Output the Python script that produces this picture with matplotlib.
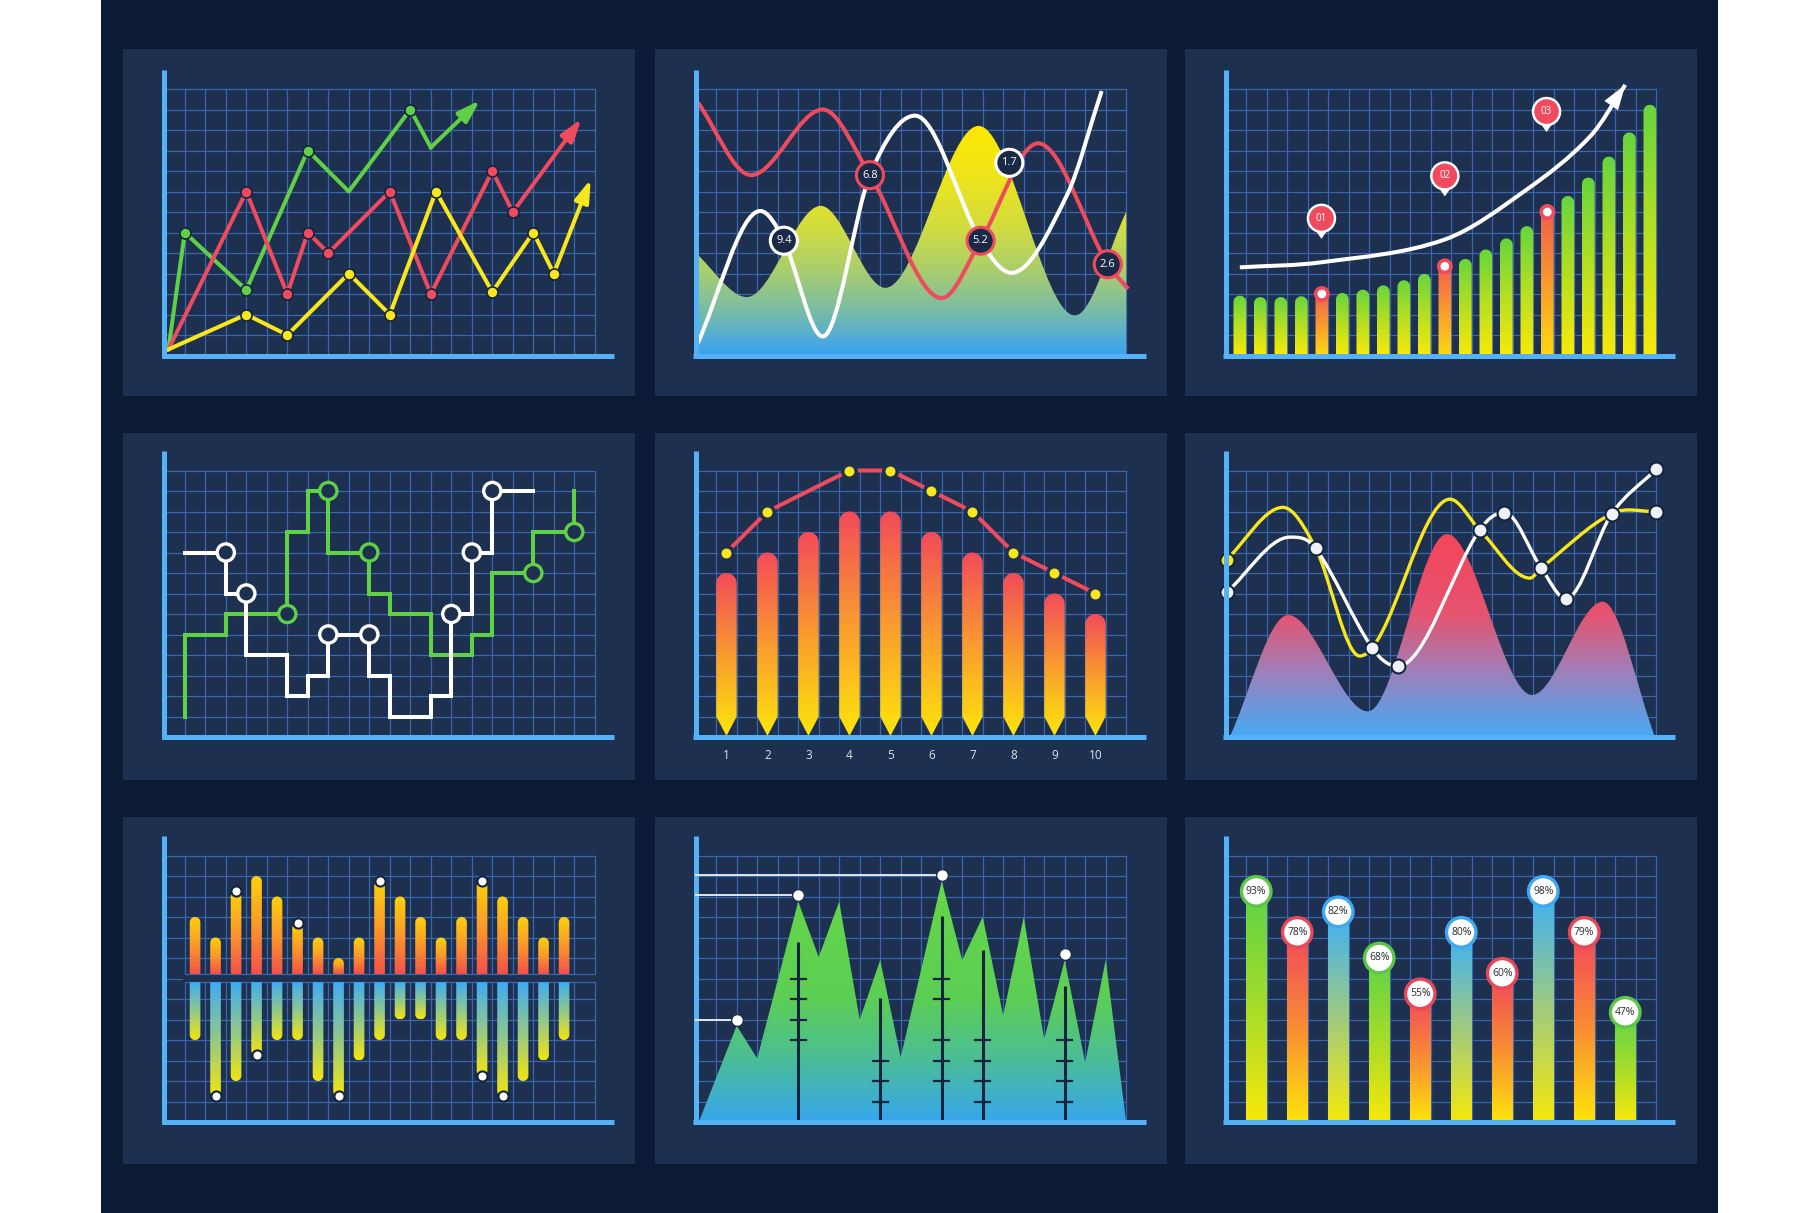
import numpy as np
import matplotlib
matplotlib.use('Agg')
import matplotlib.pyplot as plt
from matplotlib.path import Path
from matplotlib.patches import PathPatch, Rectangle, Circle, Polygon, FancyArrowPatch
from matplotlib.colors import LinearSegmentedColormap

plt.rcParams['font.family'] = ['Open Sans', 'DejaVu Sans']

# ---------------- data (grid units, one cell = 1) ----------------
# panel 1: zig-zag lines ending in arrows
p1_green_x = [0.2, 1, 4, 7, 9, 12, 13]
p1_green_y = [0.3, 6, 3.2, 10, 8, 12, 10.15]
p1_green_tip = (15.4, 12.45)
p1_green_dots = [1, 2, 3, 5]
p1_red_x = [0.2, 4, 6, 7, 8, 11, 13, 16, 17]
p1_red_y = [0.3, 8, 3, 6, 5, 8, 3, 9, 7]
p1_red_tip = (20.35, 11.55)
p1_yellow_x = [0.2, 4, 6, 9, 11, 13.25, 16, 18, 19]
p1_yellow_y = [0.3, 2, 1, 4, 2, 8, 3.1, 6, 4]
p1_yellow_tip = (20.8, 8.6)

# panel 2: smooth curves over a filled wave
p2_area_x = [0, 2.5, 6.1, 9.25, 13.8, 18.5, 21.0]
p2_area_y = [5.0, 2.85, 7.3, 3.3, 11.2, 1.95, 7.0]
p2_red_x = [0.1, 2.7, 6.2, 8.5, 12.0, 13.9, 16.7, 20.1, 21.1]
p2_red_y = [12.35, 8.8, 12.0, 8.8, 2.8, 5.6, 10.35, 4.45, 3.25]
p2_white_x = [0.05, 3.15, 4.3, 6.2, 8.5, 10.7, 13.9, 15.4, 18.1, 19.8]
p2_white_y = [0.5, 7.05, 5.6, 0.93, 8.8, 11.7, 5.6, 4.03, 7.8, 12.9]
p2_label_x = [4.3, 8.5, 13.9, 15.3, 20.1]
p2_label_y = [5.6, 8.8, 5.6, 9.4, 4.45]
p2_label_text = ['9.4', '6.8', '5.2', '1.7', '2.6']
p2_label_ring = ['white', 'red', 'red', 'white', 'red']

# panel 3: growing bars with trend arrow and pins
p3_heights = [2.92, 2.85, 2.85, 2.89, 3.0, 3.05, 3.21, 3.42, 3.67, 3.98, 4.35,
              4.71, 5.17, 5.71, 6.31, 7.0, 7.78, 8.68, 9.7, 10.88, 12.23]
p3_marked = [4, 10, 15]
p3_trend_x = [0.7, 4.7, 10.7, 14.7, 17.8, 19.5]
p3_trend_y = [4.3, 4.55, 5.66, 8.1, 10.7, 13.2]
p3_pin_x = [4.68, 10.7, 15.66]
p3_pin_y = [6.69, 8.76, 11.9]
p3_pin_text = ['01', '02', '03']

# panel 4: step lines
p4_green_x = [1, 1, 3, 3, 6, 6, 7, 7, 8, 8, 10, 10, 11, 11, 13, 13, 15, 15, 16, 16, 18, 18, 20, 20]
p4_green_y = [1, 5, 5, 6, 6, 10, 10, 12, 12, 9, 9, 7, 7, 6, 6, 4, 4, 5, 5, 8, 8, 10, 10, 12]
p4_green_rings = [(6, 6), (8, 12), (10, 9), (18, 8), (20, 10)]
p4_white_x = [1, 3, 3, 4, 4, 6, 6, 7, 7, 8, 8, 10, 10, 11, 11, 13, 13, 14, 14, 15, 15, 16, 16, 18]
p4_white_y = [9, 9, 7, 7, 4, 4, 2, 2, 3, 3, 5, 5, 3, 3, 1, 1, 2, 2, 6, 6, 9, 9, 12, 12]
p4_white_rings = [(3, 9), (4, 7), (8, 5), (10, 5), (14, 6), (15, 9), (16, 12)]

# panel 5: pencil bars with line
p5_labels = ['1', '2', '3', '4', '5', '6', '7', '8', '9', '10']
p5_bars = [8, 9, 10, 11, 11, 10, 9, 8, 7, 6]
p5_line = [9, 11, 12, 13, 13, 12, 11, 9, 8, 7]
p5_dots = [0, 1, 3, 4, 5, 6, 7, 8, 9]

# panel 6: wave area with two curves
p6_area_x = [0.2, 3.05, 6.95, 10.8, 14.95, 18.4, 20.95]
p6_area_y = [0, 5.95, 1.25, 9.9, 2.05, 6.6, 0]
p6_yellow_x = [0.05, 2.8, 4.4, 6.55, 10.95, 12.4, 14.85, 15.4, 18.85, 21.0]
p6_yellow_y = [8.65, 11.2, 9.2, 3.95, 11.6, 10.1, 7.75, 8.25, 10.9, 11.0]
p6_white_x = [0.05, 3.15, 4.4, 7.15, 8.4, 12.4, 13.6, 15.4, 16.6, 18.85, 21.0]
p6_white_y = [7.05, 9.75, 9.2, 4.35, 3.45, 10.1, 10.95, 8.25, 6.75, 10.9, 13.05]
p6_white_dots = [0, 2, 3, 4, 5, 6, 7, 8, 9, 10]

# panel 7: up / down bars
p7_up = [10, 9, 11.25, 12, 11, 9.7, 9, 8, 9, 11.75, 11, 10, 9, 10, 11.75, 11, 10, 9, 10]
p7_up_dots = [2, 5, 9, 14]
p7_down = [4, 1.25, 2, 3.25, 4, 4, 2, 1.25, 3, 4, 5, 5, 4, 4, 2.25, 1.25, 2, 3, 4]
p7_down_dots = [1, 3, 7, 14, 15]

# panel 8: mountain area
p8_x = [0.15, 2, 3, 5, 6, 7, 8, 9, 10, 12, 13, 14, 15, 16, 17, 18, 19, 20, 21]
p8_y = [0, 4.7, 3.1, 10.75, 8.05, 10.75, 5.0, 7.9, 3.15, 11.75, 7.9, 10.0, 5.2,
        10.0, 4.05, 7.9, 2.9, 7.9, 0]
p8_dot_x = [2, 5, 12, 18]
p8_dot_y = [5.0, 11.05, 12.05, 8.2]
p8_leader = [True, True, True, False]
p8_stick_x = [5, 9, 12, 14, 18]
p8_stick_top = [8.8, 6.05, 10.05, 8.4, 6.65]
p8_ticks = [[4, 5, 6, 7], [1, 2, 3], [2, 3, 4, 6, 7], [1, 2, 3, 4], [1, 2, 3, 4]]

# panel 9: percentage bars
p9_heights = [11.25, 9.25, 10.25, 8.0, 6.25, 9.25, 7.25, 11.25, 9.25, 5.35]
p9_labels = ['93%', '78%', '82%', '68%', '55%', '80%', '60%', '98%', '79%', '47%']
p9_kind = ['g', 'r', 'b', 'g', 'r', 'b', 'r', 'b', 'r', 'g']

# ---------------- style ----------------
W, H = 1820, 1213
UNIT = 20.5
BG = '#0b1a35'
PANEL = '#1e3050'
GRID = '#3a66ab'
AXIS = '#56b2f6'
DARK = '#14243f'
RED = '#ef4a5e'
GREEN = '#60d046'
YELLOW = '#f8e71c'
WHITE = '#ffffff'

col_left = [123, 655, 1185]
col_orig = [41.3, 40.7, 40.5]
row_top = [49, 433, 817]
row_orig = [306.5, 304, 305]
PW, PH = 512, 347

RAMP = np.linspace(0, 1, 256).reshape(-1, 1)


def cmap(*stops):
    return LinearSegmentedColormap.from_list('', list(stops))


CM_P2 = cmap((0, '#3aa2f4'), (0.18, '#76bba9'), (0.36, '#a9cd6e'), (0.56, '#d3dd3e'), (0.8, '#f2e516'), (1, '#fde800'))
CM_GREENBAR = cmap((0, '#f7e90a'), (0.5, '#b5df22'), (1, '#66d53e'))
CM_ORANGEBAR = cmap((0, '#fdd712'), (0.5, '#f99a30'), (1, '#f0604c'))
CM_PENCIL = cmap((0, '#fde60b'), (0.5, '#fa9b2f'), (1, '#f24b5a'))
CM_P6 = cmap((0, '#45aaf4'), (0.3, '#9a82bd'), (0.6, '#e65470'), (1, '#f5445a'))
CM_UP = cmap((0, '#f4504b'), (0.5, '#fa9a2a'), (1, '#fdd20c'))
CM_DOWN = cmap((0, '#f3e50f'), (0.5, '#92c98a'), (1, '#3eacf4'))
CM_P8 = cmap((0, '#36a6ee'), (0.25, '#4bbd98'), (0.5, '#5cce55'), (1, '#66d846'))
CM_P9 = {'g': cmap((0, '#f8e80a'), (0.5, '#a6dc2a'), (1, '#5cd448')),
         'r': cmap((0, '#fde40a'), (0.5, '#f98c34'), (1, '#f1465c')),
         'b': cmap((0, '#f6e80b'), (0.5, '#9fcb80'), (1, '#3cb0f8'))}
RING_P9 = {'g': '#5cc745', 'r': '#e94657', 'b': '#3ea8f0'}


def make_panel(r, c):
    ax = fig.add_axes([col_left[c] / W, 1 - (row_top[r] + PH) / H, PW / W, PH / H])
    ax.set_facecolor(PANEL)
    for s in ax.spines.values():
        s.set_visible(False)
    ax.set_xticks([])
    ax.set_yticks([])
    x0 = col_orig[c] / UNIT
    y0 = (PH - row_orig[r]) / UNIT
    ax.set_xlim(-x0, PW / UNIT - x0)
    ax.set_ylim(-y0, PH / UNIT - y0)
    for gx in range(1, 22):
        ax.plot([gx, gx], [0, 13], color=GRID, lw=0.9, zorder=1)
    for gy in range(1, 14):
        ax.plot([0, 21], [gy, gy], color=GRID, lw=0.9, zorder=1)
    return ax


def axis_lines(ax):
    ax.plot([0, 0], [-0.12, 13.95], color=AXIS, lw=3.6, solid_capstyle='butt', zorder=20)
    ax.plot([-0.12, 21.95], [0, 0], color=AXIS, lw=3.6, solid_capstyle='butt', zorder=20)


def smooth_path(xs, ys, base=None):
    n = len(xs)
    m = []
    for i in range(n):
        if i == 0:
            s = (ys[1] - ys[0]) / (xs[1] - xs[0])
        elif i == n - 1:
            s = (ys[-1] - ys[-2]) / (xs[-1] - xs[-2])
        elif (ys[i] - ys[i - 1]) * (ys[i + 1] - ys[i]) <= 0:
            s = 0
        else:
            s = (ys[i + 1] - ys[i - 1]) / (xs[i + 1] - xs[i - 1])
        m.append(s)
    verts = [(xs[0], ys[0])]
    codes = [Path.MOVETO]
    for i in range(n - 1):
        d = (xs[i + 1] - xs[i]) / 3
        verts += [(xs[i] + d, ys[i] + m[i] * d), (xs[i + 1] - d, ys[i + 1] - m[i + 1] * d), (xs[i + 1], ys[i + 1])]
        codes += [Path.CURVE4] * 3
    if base is not None:
        verts += [(xs[-1], base), (xs[0], base), (xs[0], ys[0])]
        codes += [Path.LINETO, Path.LINETO, Path.CLOSEPOLY]
    return Path(verts, codes)


def grad_patch(ax, patch, cm, y_lo, y_hi, z=3):
    patch.set_facecolor('none')
    patch.set_edgecolor('none')
    ax.add_patch(patch)
    im = ax.imshow(RAMP, extent=[-3, 24, y_lo, y_hi], origin='lower', cmap=cm,
                   aspect='auto', zorder=z, interpolation='bilinear')
    im.set_clip_path(patch)


def bar_poly(x, y_lo, y_hi, w, top='round', bottom='flat', tip=0.0):
    r = w / 2
    pts = []
    if bottom == 'round':
        for a in np.linspace(np.pi, 2 * np.pi, 24):
            pts.append((x + r * np.cos(a), y_lo + r + r * np.sin(a)))
    elif bottom == 'tip':
        pts += [(x - r, y_lo + tip), (x, y_lo), (x + r, y_lo + tip)]
    else:
        pts += [(x - r, y_lo), (x + r, y_lo)]
    if top == 'round':
        for a in np.linspace(0, np.pi, 24):
            pts.append((x + r * np.cos(a), y_hi - r + r * np.sin(a)))
    else:
        pts += [(x + r, y_hi), (x - r, y_hi)]
    return Polygon(pts, closed=True)


fig = plt.figure(figsize=(W / 100, H / 100), dpi=100)
fig.patch.set_facecolor('white')
fig.add_artist(Rectangle((101 / W, 0), 1617 / W, 1, transform=fig.transFigure,
                         facecolor=BG, edgecolor='none', zorder=-10))

# ---------- panel 1 ----------
ax = make_panel(0, 0)
series1 = [(p1_green_x, p1_green_y, p1_green_tip, GREEN, p1_green_dots),
           (p1_red_x, p1_red_y, p1_red_tip, RED, list(range(1, len(p1_red_x)))),
           (p1_yellow_x, p1_yellow_y, p1_yellow_tip, YELLOW, list(range(1, len(p1_yellow_x))))]
for k, (xs, ys, tip, col, dots) in enumerate(series1):
    z = 4 + 2 * k
    ax.plot(xs, ys, color=col, lw=2.9, solid_joinstyle='round', zorder=z)
    ax.annotate('', xy=tip, xytext=(xs[-1], ys[-1]), zorder=z,
                arrowprops=dict(arrowstyle='-|>,head_length=0.75,head_width=0.24', color=col,
                                lw=2.9, shrinkA=0, shrinkB=0, mutation_scale=18))
    ax.plot([xs[i] for i in dots], [ys[i] for i in dots], 'o', ms=8, mfc=col, mec=DARK,
            mew=1.2, zorder=z + 1)
axis_lines(ax)

# ---------- panel 2 ----------
ax = make_panel(0, 1)
grad_patch(ax, PathPatch(smooth_path(p2_area_x, p2_area_y, base=0)), CM_P2, 0, 11.3, z=2)
ax.add_patch(PathPatch(smooth_path(p2_red_x, p2_red_y), fill=False, ec=RED, lw=2.9, zorder=4))
ax.add_patch(PathPatch(smooth_path(p2_white_x, p2_white_y), fill=False, ec=WHITE, lw=2.9, zorder=5))
for x, y, t, ring in zip(p2_label_x, p2_label_y, p2_label_text, p2_label_ring):
    ax.add_patch(Circle((x, y), 0.66, fc='#1a2946', ec=RED if ring == 'red' else WHITE, lw=2.2, zorder=6))
    ax.text(x, y, t, color=WHITE, fontsize=8, ha='center', va='center', zorder=7)
axis_lines(ax)

# ---------- panel 3 ----------
ax = make_panel(0, 2)
for i, h in enumerate(p3_heights):
    x = 0.7 + i
    hot = i in p3_marked
    grad_patch(ax, bar_poly(x, 0, h, 0.62), CM_ORANGEBAR if hot else CM_GREENBAR, 0, h, z=3)
    if hot:
        ax.add_patch(Circle((x, h), 0.3, fc=WHITE, ec=RED, lw=2.6, zorder=5))
ax.add_patch(PathPatch(smooth_path(p3_trend_x, p3_trend_y), fill=False, ec=WHITE, lw=2.9,
                       capstyle='butt', zorder=6))
ax.add_patch(FancyArrowPatch((p3_trend_x[-2], p3_trend_y[-2]), (p3_trend_x[-1], p3_trend_y[-1]),
                             arrowstyle='-|>,head_length=0.9,head_width=0.3', mutation_scale=20,
                             color=WHITE, lw=0, shrinkA=0, shrinkB=0, zorder=7))
for x, y, t in zip(p3_pin_x, p3_pin_y, p3_pin_text):
    ax.add_patch(Polygon([(x - 0.35, y - 0.5), (x + 0.35, y - 0.5), (x, y - 1.0)], fc=WHITE, ec='none', zorder=8))
    ax.add_patch(Circle((x, y), 0.72, fc=WHITE, ec='none', zorder=8))
    ax.add_patch(Circle((x, y), 0.6, fc=RED, ec='none', zorder=9))
    ax.text(x, y, t, color=WHITE, fontsize=7, ha='center', va='center', zorder=10)
axis_lines(ax)

# ---------- panel 4 ----------
ax = make_panel(1, 0)
ax.plot(p4_green_x, p4_green_y, color=GREEN, lw=2.9, solid_joinstyle='miter', zorder=4)
for x, y in p4_green_rings:
    ax.add_patch(Circle((x, y), 0.42, fc=PANEL, ec=GREEN, lw=2.4, zorder=5))
ax.plot(p4_white_x, p4_white_y, color=WHITE, lw=2.9, solid_joinstyle='miter', zorder=6)
for x, y in p4_white_rings:
    ax.add_patch(Circle((x, y), 0.42, fc=PANEL, ec=WHITE, lw=2.4, zorder=7))
axis_lines(ax)

# ---------- panel 5 ----------
ax = make_panel(1, 1)
p5_x = [1.5 + 2 * i for i in range(len(p5_bars))]
for x, h in zip(p5_x, p5_bars):
    grad_patch(ax, bar_poly(x, 0.05, h, 1.0, bottom='tip', tip=0.95), CM_PENCIL, 0, h, z=3)
ax.plot(p5_x, p5_line, color=RED, lw=2.9, zorder=5)
ax.plot([p5_x[i] for i in p5_dots], [p5_line[i] for i in p5_dots], 'o', ms=9.7, mfc='#f8e71c',
        mec=PANEL, mew=2.5, zorder=6)
for x, t in zip(p5_x, p5_labels):
    ax.text(x, -0.88, t, color='#dce3ee', fontsize=8.5, ha='center', va='center')
axis_lines(ax)

# ---------- panel 6 ----------
ax = make_panel(1, 2)
grad_patch(ax, PathPatch(smooth_path(p6_area_x, p6_area_y, base=0)), CM_P6, 0, 10.0, z=2)
ax.add_patch(PathPatch(smooth_path(p6_yellow_x, p6_yellow_y), fill=False, ec=YELLOW, lw=2.4, zorder=4))
ax.add_patch(PathPatch(smooth_path(p6_white_x, p6_white_y), fill=False, ec=WHITE, lw=2.4, zorder=5))
ax.plot([p6_white_x[i] for i in p6_white_dots], [p6_white_y[i] for i in p6_white_dots], 'o',
        ms=10, mfc='#eef1f6', mec=DARK, mew=1.5, zorder=6)
ax.plot([p6_yellow_x[-1]], [p6_yellow_y[-1]], 'o', ms=10, mfc='#eef1f6', mec=DARK, mew=1.5, zorder=6)
ax.plot([p6_yellow_x[0]], [p6_yellow_y[0]], 'o', ms=10, mfc=YELLOW, mec=DARK, mew=1.5, zorder=6)
axis_lines(ax)

# ---------- panel 7 ----------
ax = make_panel(2, 0)
ax.add_patch(Rectangle((0.9, 6.82), 20.2, 0.38, fc=PANEL, ec='none', zorder=1.5))
ax.plot([1, 21], [6.82, 6.82], color=GRID, lw=0.9, zorder=1.6)
ax.plot([1, 21], [7.2, 7.2], color=GRID, lw=0.9, zorder=1.6)
p7_x = [1.5 + i for i in range(len(p7_up))]
for x, u, d in zip(p7_x, p7_up, p7_down):
    grad_patch(ax, bar_poly(x, 7.2, u, 0.52), CM_UP, 7.2, u, z=3)
    grad_patch(ax, bar_poly(x, d, 6.82, 0.52, top='flat', bottom='round'), CM_DOWN, d, 6.82, z=3)
ax.plot([p7_x[i] for i in p7_up_dots], [p7_up[i] for i in p7_up_dots], 'o', ms=7.3,
        mfc=WHITE, mec=DARK, mew=1.5, zorder=6)
ax.plot([p7_x[i] for i in p7_down_dots], [p7_down[i] for i in p7_down_dots], 'o', ms=7.3,
        mfc=WHITE, mec=DARK, mew=1.5, zorder=6)
axis_lines(ax)

# ---------- panel 8 ----------
ax = make_panel(2, 1)
grad_patch(ax, Polygon(list(zip(p8_x, p8_y)), closed=True), CM_P8, 0, 12.0, z=2)
for x, top, ticks in zip(p8_stick_x, p8_stick_top, p8_ticks):
    ax.plot([x, x], [0, top], color=DARK, lw=2.2, solid_capstyle='butt', zorder=4)
    for t in ticks:
        ax.plot([x - 0.36, x + 0.36], [t, t], color=DARK, lw=1.6, zorder=4)
for x, y, lead in zip(p8_dot_x, p8_dot_y, p8_leader):
    if lead:
        ax.plot([0, x], [y, y], color='#dfe6ef', lw=1.4, zorder=21)
ax.plot(p8_dot_x, p8_dot_y, 'o', ms=8.5, mfc=WHITE, mec=PANEL, mew=1.0, zorder=22)
axis_lines(ax)

# ---------- panel 9 ----------
ax = make_panel(2, 2)
p9_x = [1.5 + 2 * i for i in range(len(p9_heights))]
for x, h, t, k in zip(p9_x, p9_heights, p9_labels, p9_kind):
    grad_patch(ax, bar_poly(x, 0, h, 1.0, top='flat'), CM_P9[k], 0, h, z=3)
    ax.add_patch(Circle((x, h), 0.72, fc=WHITE, ec=RING_P9[k], lw=2.4, zorder=5))
    ax.text(x, h, t, color='#2b2b2b', fontsize=7.5, ha='center', va='center', zorder=6)
axis_lines(ax)

fig.savefig('out.png', dpi=100, facecolor=fig.get_facecolor())
